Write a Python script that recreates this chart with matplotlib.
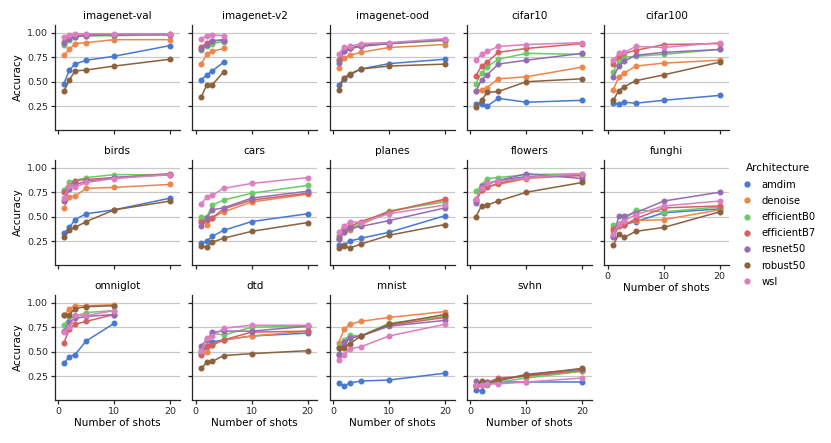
import matplotlib
matplotlib.use("Agg")
import matplotlib.pyplot as plt
from matplotlib.lines import Line2D

architectures = ["amdim", "denoise", "efficientB0", "efficientB7", "resnet50", "robust50", "wsl"]
colors = ["#4878d0", "#ee854a", "#6acc64", "#d65f5f", "#956cb4", "#8c613c", "#dc7ec0"]

shots = [1, 2, 3, 5, 10, 20]
shots_v2 = [1, 2, 3, 5]
shots_omniglot = [1, 2, 3, 5, 10]

# rows follow the order of `architectures`
imagenet_val = [
    [0.48, 0.62, 0.68, 0.72, 0.76, 0.87],
    [0.77, 0.83, 0.89, 0.90, 0.93, 0.93],
    [0.88, 0.93, 0.96, 0.97, 0.97, 0.98],
    [0.91, 0.95, 0.97, 0.98, 0.98, 0.99],
    [0.90, 0.94, 0.96, 0.97, 0.98, 0.98],
    [0.40, 0.52, 0.61, 0.62, 0.66, 0.73],
    [0.96, 0.98, 0.99, 0.99, 0.99, 0.99],
]
imagenet_v2 = [
    [0.52, 0.57, 0.61, 0.70],
    [0.68, 0.78, 0.81, 0.84],
    [0.82, 0.87, 0.89, 0.91],
    [0.85, 0.90, 0.92, 0.93],
    [0.83, 0.88, 0.92, 0.92],
    [0.34, 0.47, 0.47, 0.60],
    [0.94, 0.97, 0.98, 0.97],
]
imagenet_ood = [
    [0.47, 0.53, 0.57, 0.63, 0.685, 0.73],
    [0.64, 0.74, 0.77, 0.80, 0.85, 0.88],
    [0.72, 0.82, 0.84, 0.87, 0.89, 0.92],
    [0.72, 0.81, 0.84, 0.86, 0.89, 0.93],
    [0.69, 0.81, 0.84, 0.87, 0.89, 0.93],
    [0.42, 0.54, 0.58, 0.63, 0.66, 0.68],
    [0.78, 0.85, 0.86, 0.89, 0.90, 0.94],
]
cifar10 = [
    [0.27, 0.27, 0.25, 0.33, 0.29, 0.31],
    [0.40, 0.42, 0.44, 0.53, 0.55, 0.65],
    [0.48, 0.59, 0.65, 0.73, 0.79, 0.78],
    [0.56, 0.66, 0.70, 0.80, 0.84, 0.89],
    [0.40, 0.52, 0.57, 0.68, 0.72, 0.79],
    [0.24, 0.31, 0.39, 0.40, 0.50, 0.53],
    [0.72, 0.78, 0.81, 0.86, 0.88, 0.90],
]
cifar100 = [
    [0.28, 0.27, 0.29, 0.28, 0.31, 0.36],
    [0.42, 0.55, 0.59, 0.66, 0.69, 0.72],
    [0.60, 0.71, 0.75, 0.76, 0.78, 0.83],
    [0.68, 0.76, 0.79, 0.82, 0.88, 0.89],
    [0.55, 0.66, 0.71, 0.77, 0.80, 0.83],
    [0.31, 0.41, 0.45, 0.51, 0.57, 0.70],
    [0.72, 0.79, 0.80, 0.86, 0.85, 0.90],
]
birds = [
    [0.33, 0.39, 0.47, 0.53, 0.57, 0.69],
    [0.59, 0.70, 0.71, 0.79, 0.80, 0.83],
    [0.77, 0.85, 0.87, 0.90, 0.93, 0.93],
    [0.75, 0.81, 0.87, 0.88, 0.90, 0.94],
    [0.66, 0.78, 0.83, 0.86, 0.90, 0.93],
    [0.29, 0.36, 0.39, 0.45, 0.57, 0.66],
    [0.69, 0.81, 0.80, 0.85, 0.89, 0.93],
]
cars = [
    [0.23, 0.25, 0.30, 0.36, 0.45, 0.53],
    [0.47, 0.41, 0.49, 0.55, 0.65, 0.73],
    [0.50, 0.50, 0.62, 0.67, 0.74, 0.82],
    [0.45, 0.47, 0.49, 0.58, 0.67, 0.74],
    [0.40, 0.49, 0.57, 0.59, 0.69, 0.76],
    [0.20, 0.19, 0.24, 0.28, 0.35, 0.44],
    [0.63, 0.70, 0.72, 0.79, 0.84, 0.90],
]
planes = [
    [0.21, 0.21, 0.25, 0.28, 0.34, 0.51],
    [0.27, 0.34, 0.36, 0.42, 0.55, 0.67],
    [0.28, 0.37, 0.38, 0.43, 0.56, 0.65],
    [0.30, 0.38, 0.40, 0.45, 0.55, 0.68],
    [0.27, 0.34, 0.38, 0.40, 0.46, 0.59],
    [0.18, 0.20, 0.18, 0.22, 0.31, 0.42],
    [0.34, 0.40, 0.45, 0.44, 0.53, 0.62],
]
flowers = [
    [0.67, 0.79, 0.83, 0.87, 0.91, 0.93],
    [0.65, 0.77, 0.81, 0.83, 0.89, 0.93],
    [0.76, 0.82, 0.89, 0.90, 0.93, 0.94],
    [0.67, 0.77, 0.80, 0.84, 0.90, 0.92],
    [0.64, 0.81, 0.84, 0.87, 0.94, 0.89],
    [0.50, 0.61, 0.62, 0.66, 0.75, 0.85],
    [0.68, 0.79, 0.84, 0.86, 0.90, 0.94],
]
funghi = [
    [0.30, 0.40, 0.42, 0.45, 0.54, 0.58],
    [0.35, 0.40, 0.43, 0.46, 0.47, 0.57],
    [0.42, 0.43, 0.47, 0.57, 0.55, 0.60],
    [0.37, 0.41, 0.41, 0.48, 0.59, 0.61],
    [0.29, 0.51, 0.51, 0.54, 0.66, 0.75],
    [0.21, 0.32, 0.29, 0.35, 0.39, 0.55],
    [0.32, 0.43, 0.46, 0.52, 0.61, 0.66],
]
omniglot = [
    [0.38, 0.45, 0.47, 0.61, 0.79],
    [0.87, 0.94, 0.97, 0.97, 0.98],
    [0.77, 0.85, 0.86, 0.90, 0.92],
    [0.59, 0.73, 0.78, 0.81, 0.88],
    [0.71, 0.80, 0.84, 0.86, 0.88],
    [0.87, 0.88, 0.94, 0.96, 0.97],
    [0.70, 0.75, 0.87, 0.87, 0.92],
]
dtd = [
    [0.49, 0.55, 0.60, 0.62, 0.66, 0.69],
    [0.48, 0.50, 0.57, 0.62, 0.66, 0.71],
    [0.52, 0.62, 0.69, 0.67, 0.75, 0.76],
    [0.47, 0.56, 0.57, 0.62, 0.70, 0.71],
    [0.56, 0.62, 0.70, 0.71, 0.71, 0.76],
    [0.33, 0.39, 0.40, 0.46, 0.48, 0.51],
    [0.51, 0.64, 0.66, 0.74, 0.77, 0.77],
]
mnist = [
    [0.18, 0.15, 0.18, 0.20, 0.21, 0.28],
    [0.59, 0.73, 0.78, 0.81, 0.85, 0.91],
    [0.55, 0.62, 0.67, 0.66, 0.79, 0.86],
    [0.47, 0.57, 0.64, 0.66, 0.77, 0.85],
    [0.48, 0.60, 0.64, 0.66, 0.76, 0.82],
    [0.54, 0.54, 0.58, 0.66, 0.78, 0.88],
    [0.41, 0.47, 0.53, 0.55, 0.66, 0.78],
]
svhn = [
    [0.11, 0.10, 0.19, 0.19, 0.19, 0.19],
    [0.16, 0.18, 0.19, 0.22, 0.25, 0.30],
    [0.15, 0.16, 0.16, 0.19, 0.23, 0.30],
    [0.15, 0.16, 0.18, 0.23, 0.25, 0.31],
    [0.20, 0.17, 0.19, 0.20, 0.27, 0.32],
    [0.16, 0.20, 0.17, 0.21, 0.26, 0.33],
    [0.16, 0.16, 0.17, 0.17, 0.19, 0.23],
]

datasets = [
    ("imagenet-val", shots, imagenet_val),
    ("imagenet-v2", shots_v2, imagenet_v2),
    ("imagenet-ood", shots, imagenet_ood),
    ("cifar10", shots, cifar10),
    ("cifar100", shots, cifar100),
    ("birds", shots, birds),
    ("cars", shots, cars),
    ("planes", shots, planes),
    ("flowers", shots, flowers),
    ("funghi", shots, funghi),
    ("omniglot", shots_omniglot, omniglot),
    ("dtd", shots, dtd),
    ("mnist", shots, mnist),
    ("svhn", shots, svhn),
]

plt.rcParams["font.family"] = "DejaVu Sans"
plt.rcParams["axes.edgecolor"] = "#262626"
plt.rcParams["xtick.color"] = "#262626"
plt.rcParams["ytick.color"] = "#262626"

fig, axes = plt.subplots(3, 5, figsize=(8.31, 4.43), dpi=100, sharex=True, sharey=True)
fig.subplots_adjust(left=0.066, right=0.8776, top=0.9436, bottom=0.098,
                    wspace=0.099, hspace=0.29)
axes = axes.flatten()

for i, (name, xs, rows) in enumerate(datasets):
    ax = axes[i]
    for arch, color, ys in zip(architectures, colors, rows):
        ax.plot(xs, ys, color=color, marker="o", markersize=3.3, lw=1.1, label=arch)
    ax.set_title(name, fontsize=7.5, pad=4)
    ax.set_xlim(-0.6, 21.7)
    ax.set_ylim(0.01, 1.08)
    ax.set_xticks([0, 10, 20])
    ax.set_yticks([0.25, 0.5, 0.75, 1.0])
    ax.yaxis.grid(True, color="#c8c8c8", lw=0.9)
    ax.set_axisbelow(True)
    for side in ["top", "right"]:
        ax.spines[side].set_visible(False)
    for side in ["left", "bottom"]:
        ax.spines[side].set_linewidth(0.9)
    ax.tick_params(labelsize=6.8, width=0.9, length=3, pad=2)
    col = i % 5
    bottom_row = i >= 10 or i == 9
    if col == 0:
        ax.set_ylabel("Accuracy", fontsize=7.5, labelpad=3)
    if bottom_row:
        ax.set_xlabel("Number of shots", fontsize=7.5, labelpad=2)
        ax.tick_params(labelbottom=True)
    else:
        ax.tick_params(labelbottom=False)
    ax.yaxis.set_major_formatter(matplotlib.ticker.FormatStrFormatter("%.2f"))

axes[14].set_visible(False)

handles = [Line2D([], [], color=c, marker="o", ls="", markersize=3.5) for c in colors]
leg = fig.legend(handles, architectures, title="Architecture", loc="upper left",
                 bbox_to_anchor=(0.885, 0.64), frameon=False, fontsize=7.2,
                 title_fontsize=7.5, handletextpad=0.6, labelspacing=0.62,
                 borderaxespad=0, handlelength=1.6)

fig.savefig("out.png", dpi=100)
